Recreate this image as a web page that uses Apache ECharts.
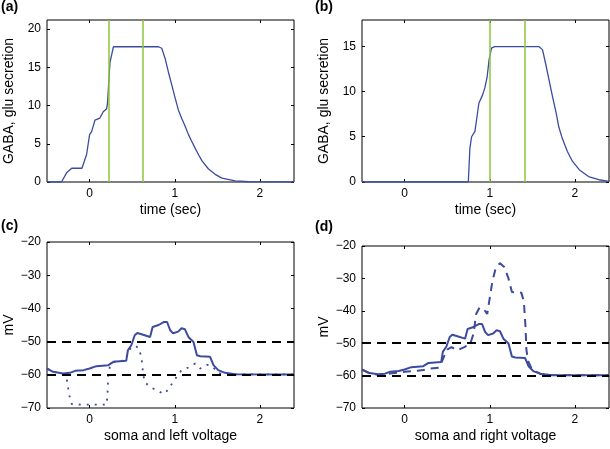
<!DOCTYPE html>
<html>
<head>
<meta charset="utf-8">
<script src="https://cdn.jsdelivr.net/npm/echarts@6/dist/echarts.min.js"></script>
<style>
  html, body { margin: 0; padding: 0; background: #fff; }
  #main { width: 610px; height: 449px; }
</style>
</head>
<body>
<div id="main"></div>
<script>
// (a) GABA/glu secretion, left stimulus
var timeA = [-0.5, -0.33, -0.27, -0.21, -0.09, -0.035, 0.0, 0.024, 0.063, 0.12, 0.16, 0.2, 0.21, 0.24, 0.28, 0.81,
  0.847, 0.886, 0.925, 0.965, 1.004, 1.043, 1.082, 1.122, 1.161, 1.2, 1.24, 1.278, 1.318, 1.396, 1.475, 1.553, 1.71, 1.87, 2.0, 2.4];
var gabaA = [0, 0, 1.2, 1.8, 1.8, 3.6, 6.2, 6.6, 8.1, 8.35, 9.2, 9.6, 10.3, 15.7, 17.7, 17.7,
  17.5, 16.2, 14.4, 12.7, 11.0, 9.4, 8.3, 7.3, 6.2, 5.3, 4.4, 3.6, 2.8, 1.7, 1.0, 0.5, 0.15, 0.03, 0.01, 0];
var stimA = [0.22, 0.62];

// (b) GABA/glu secretion, right stimulus
var timeB = [-0.5, 0.748, 0.767, 0.787, 0.826, 0.853, 0.872, 0.915, 0.942, 0.969, 0.992, 1.02, 1.058, 1.58,
  1.62, 1.66, 1.70, 1.74, 1.78, 1.81, 1.85, 1.91, 1.97, 2.05, 2.16, 2.28, 2.4];
var gabaB = [0, 0, 3.75, 5.0, 5.6, 7.4, 8.7, 9.6, 10.4, 11.6, 13.5, 14.8, 14.95, 14.95,
  14.6, 12.9, 11.1, 9.3, 7.6, 6.1, 4.85, 3.4, 2.3, 1.36, 0.6, 0.25, 0.08];
var stimB = [1.0, 1.41];

// soma voltage (solid, both lower panels)
var timeSoma = [-0.5, -0.43, -0.31, -0.23, -0.17, -0.07, 0.0, 0.08, 0.22, 0.28, 0.43, 0.45, 0.49, 0.53, 0.56, 0.61,
  0.71, 0.74, 0.81, 0.87, 0.91, 0.945, 0.98, 1.04, 1.08, 1.12, 1.16, 1.22, 1.26, 1.30, 1.415, 1.455, 1.51, 1.59, 1.71, 2.4];
var vSoma = [-58.1, -59.1, -59.6, -59.4, -58.8, -58.6, -58.1, -57.4, -57.1, -56.1, -55.8, -52.6, -51.1, -48.1, -47.4, -47.8,
  -48.6, -45.6, -45.0, -44.1, -44.1, -46.5, -47.5, -47.0, -46.0, -46.3, -48.6, -50.1, -54.1, -54.4, -54.6, -57.1, -58.6, -59.4, -59.8, -59.9];

// left dendrite voltage (dotted)
var timeLeft = [-0.5, -0.4, -0.3, -0.27, -0.24, -0.21, -0.1, 0.1, 0.2, 0.21, 0.22, 0.24, 0.3, 0.42, 0.46, 0.53, 0.58, 0.61, 0.63, 0.65,
  0.72, 0.8, 0.87, 0.93, 0.98, 1.08, 1.16, 1.24, 1.30, 1.38, 1.44, 1.51, 1.6, 1.7, 2.4];
var vLeft = [-58.3, -59.2, -59.8, -61, -66, -68.8, -69, -69, -69, -66, -60, -57.2, -56.0, -55.7, -52.5, -51.2, -52, -55, -60, -62.3,
  -63.8, -64.8, -65.8, -64.3, -62.1, -58.6, -57.8, -56.6, -58.1, -57.0, -57.4, -59.5, -59.8, -59.9, -59.9];

// right dendrite voltage (dashed)
var timeRight = [-0.5, -0.4, -0.3, -0.15, 0.0, 0.15, 0.22, 0.3, 0.4, 0.44, 0.5, 0.55, 0.62, 0.7, 0.77, 0.81, 0.84, 0.88, 0.93, 0.97,
  1.0, 1.03, 1.07, 1.12, 1.17, 1.22, 1.26, 1.37, 1.40, 1.42, 1.43, 1.45, 1.5, 1.6, 1.7, 2.4];
var vRight = [-58.2, -59.3, -59.8, -59.3, -58.8, -58.5, -58.3, -57.8, -57.6, -55.5, -52, -51.2, -52.2, -51.2, -50.3, -47, -41, -39, -39.5, -41,
  -36, -31, -26.8, -25.3, -26.5, -30, -34.2, -34.4, -37, -45, -52, -55.5, -58.3, -59.5, -59.9, -59.9];

var thresholds = [-50, -60];

var xTicks = [0, 1, 2];
var yTicksA = [0, 5, 10, 15, 20];
var yTicksB = [0, 5, 10, 15];
var yTicksV = [-70, -60, -50, -40, -30, -20];

function zip(xs, ys) {
  return xs.map(function (x, i) { return [x, ys[i]]; });
}

var blue = '#3d4b9f';
var green = '#8cc63a';
var font = 'Liberation Sans, Arial, sans-serif';

var grids = [
  { left: 47, top: 20, width: 247, height: 162 },
  { left: 362, top: 20, width: 247, height: 162 },
  { left: 47, top: 242, width: 247, height: 166 },
  { left: 362, top: 246, width: 247, height: 162 }
];
grids.forEach(function (g) {
  g.show = true;
  g.borderColor = '#000';
  g.borderWidth = 1;
  g.containLabel = false;
  g.outerBoundsMode = 'none';
});

var xNames = ['time (sec)', 'time (sec)', 'soma and left voltage', 'soma and right voltage'];
var yNames = ['GABA, glu secretion', 'GABA, glu secretion', 'mV', 'mV'];
var yRanges = [[0, 21.2], [0, 17.9], [-70, -20], [-70, -20]];
var yTickSets = [yTicksA, yTicksB, yTicksV, yTicksV];

var tickStyle = { color: '#000', width: 1 };
var xAxes = [], yAxes = [];
for (var i = 0; i < 4; i++) {
  // bottom + top
  xAxes.push({
    type: 'value', gridIndex: i, min: -0.5, max: 2.4, position: 'bottom',
    name: xNames[i], nameLocation: 'middle', nameGap: 21,
    nameTextStyle: { fontFamily: font, fontSize: 14, color: '#000' },
    axisLine: { show: false, onZero: false }, splitLine: { show: false },
    axisTick: { inside: true, length: 3, customValues: xTicks, lineStyle: tickStyle },
    axisLabel: { customValues: xTicks, margin: 6, fontFamily: font, fontSize: 12, color: '#000' }
  });
  xAxes.push({
    type: 'value', gridIndex: i, min: -0.5, max: 2.4, position: 'top',
    axisLine: { show: false, onZero: false }, splitLine: { show: false },
    axisTick: { inside: true, length: 3, customValues: xTicks, lineStyle: tickStyle },
    axisLabel: { show: false }
  });
  // left + right
  yAxes.push({
    type: 'value', gridIndex: i, min: yRanges[i][0], max: yRanges[i][1], position: 'left',
    name: yNames[i], nameLocation: 'middle', nameGap: 31,
    nameTextStyle: { fontFamily: font, fontSize: 14, color: '#000' },
    axisLine: { show: false, onZero: false }, splitLine: { show: false },
    axisTick: { inside: true, length: 3, customValues: yTickSets[i], lineStyle: tickStyle },
    axisLabel: {
      customValues: yTickSets[i], margin: 6, fontFamily: font, fontSize: 12, color: '#000',
      formatter: function (v) { return v < 0 ? '\u2212' + Math.abs(v) : String(v); }
    }
  });
  yAxes.push({
    type: 'value', gridIndex: i, min: yRanges[i][0], max: yRanges[i][1], position: 'right',
    axisLine: { show: false, onZero: false }, splitLine: { show: false },
    axisTick: { inside: true, length: 3, customValues: yTickSets[i], lineStyle: tickStyle },
    axisLabel: { show: false }
  });
}

function stimLines(xs) {
  return {
    silent: true, symbol: 'none', label: { show: false },
    lineStyle: { color: green, width: 1.5, type: 'solid' },
    data: xs.map(function (x) { return { xAxis: x }; })
  };
}
function thresholdLines() {
  return {
    silent: true, symbol: 'none', label: { show: false },
    lineStyle: { color: '#000', width: 2, type: [9, 6] },
    data: thresholds.map(function (y) { return { yAxis: y }; })
  };
}

var series = [
  { type: 'line', xAxisIndex: 0, yAxisIndex: 0, data: zip(timeA, gabaA), showSymbol: false,
    lineStyle: { color: blue, width: 1.3 }, markLine: stimLines(stimA) },
  { type: 'line', xAxisIndex: 2, yAxisIndex: 2, data: zip(timeB, gabaB), showSymbol: false,
    lineStyle: { color: blue, width: 1.3 }, markLine: stimLines(stimB) },
  { type: 'line', xAxisIndex: 4, yAxisIndex: 4, data: zip(timeLeft, vLeft), showSymbol: false,
    lineStyle: { color: blue, width: 1.8, type: [2, 6] } },
  { type: 'line', xAxisIndex: 4, yAxisIndex: 4, data: zip(timeSoma, vSoma), showSymbol: false,
    lineStyle: { color: blue, width: 2 }, markLine: thresholdLines() },
  { type: 'line', xAxisIndex: 6, yAxisIndex: 6, data: zip(timeRight, vRight), showSymbol: false,
    lineStyle: { color: blue, width: 2, type: [8, 6] } },
  { type: 'line', xAxisIndex: 6, yAxisIndex: 6, data: zip(timeSoma, vSoma), showSymbol: false,
    lineStyle: { color: blue, width: 2 }, markLine: thresholdLines() }
];
series.forEach(function (s) { s.animation = false; s.itemStyle = { color: blue }; });

var panelLabels = [
  { text: '(a)', x: 1, y: 0 },
  { text: '(b)', x: 315, y: 0 },
  { text: '(c)', x: 1, y: 219 },
  { text: '(d)', x: 315, y: 220 }
];

var chart = echarts.init(document.getElementById('main'));
chart.setOption({
  animation: false,
  backgroundColor: '#fff',
  grid: grids,
  xAxis: xAxes,
  yAxis: yAxes,
  series: series,
  graphic: panelLabels.map(function (p) {
    return { type: 'text', left: p.x, top: p.y,
      style: { text: p.text, fontFamily: font, fontSize: 14, fontWeight: 'bold', fill: '#000' } };
  })
});
</script>
</body>
</html>
